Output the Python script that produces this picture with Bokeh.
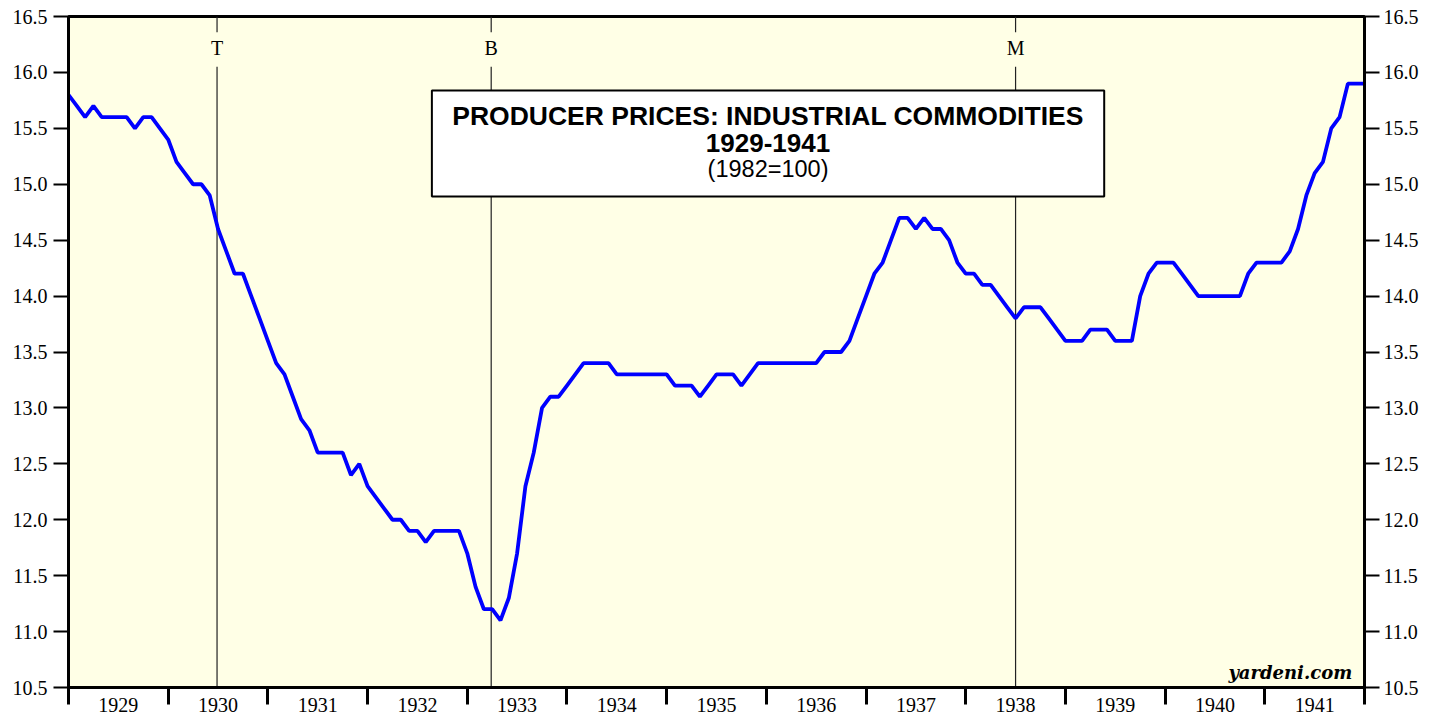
from bokeh.plotting import figure
from bokeh.models import FixedTicker, LinearAxis, Range1d, BoxAnnotation, Label, PrintfTickFormatter
from bokeh.core.properties import value
from bokeh.embed import file_html
from bokeh.resources import INLINE

# Monthly producer prices, industrial commodities (1982=100), Jan 1929 onward
ppi = [
    15.8, 15.7, 15.6, 15.7, 15.6, 15.6, 15.6, 15.6, 15.5, 15.6, 15.6, 15.5,   # 1929
    15.4, 15.2, 15.1, 15.0, 15.0, 14.9, 14.6, 14.4, 14.2, 14.2, 14.0, 13.8,   # 1930
    13.6, 13.4, 13.3, 13.1, 12.9, 12.8, 12.6, 12.6, 12.6, 12.6, 12.4, 12.5,   # 1931
    12.3, 12.2, 12.1, 12.0, 12.0, 11.9, 11.9, 11.8, 11.9, 11.9, 11.9, 11.9,   # 1932
    11.7, 11.4, 11.2, 11.2, 11.1, 11.3, 11.7, 12.3, 12.6, 13.0, 13.1, 13.1,   # 1933
    13.2, 13.3, 13.4, 13.4, 13.4, 13.4, 13.3, 13.3, 13.3, 13.3, 13.3, 13.3,   # 1934
    13.3, 13.2, 13.2, 13.2, 13.1, 13.2, 13.3, 13.3, 13.3, 13.2, 13.3, 13.4,   # 1935
    13.4, 13.4, 13.4, 13.4, 13.4, 13.4, 13.4, 13.5, 13.5, 13.5, 13.6, 13.8,   # 1936
    14.0, 14.2, 14.3, 14.5, 14.7, 14.7, 14.6, 14.7, 14.6, 14.6, 14.5, 14.3,   # 1937
    14.2, 14.2, 14.1, 14.1, 14.0, 13.9, 13.8, 13.9, 13.9, 13.9, 13.8, 13.7,   # 1938
    13.6, 13.6, 13.6, 13.7, 13.7, 13.7, 13.6, 13.6, 13.6, 14.0, 14.2, 14.3,   # 1939
    14.3, 14.3, 14.2, 14.1, 14.0, 14.0, 14.0, 14.0, 14.0, 14.0, 14.2, 14.3,   # 1940
    14.3, 14.3, 14.3, 14.4, 14.6, 14.9, 15.1, 15.2, 15.5, 15.6, 15.9, 15.9,   # 1941
    15.9,
]
start_year = 1929
months = [start_year + i / 12 for i in range(len(ppi))]

years = list(range(1929, 1942))
year_labels = [str(y) for y in years]
year_bounds = list(range(1929, 1943))
y_ticks = [10.5, 11.0, 11.5, 12.0, 12.5, 13.0, 13.5, 14.0, 14.5, 15.0, 15.5, 16.0, 16.5]

cycle_x = [1930.49, 1933.24, 1938.50]
cycle_labels = ["T", "B", "M"]

title_lines = ["PRODUCER PRICES: INDUSTRIAL COMMODITIES", "1929-1941", "(1982=100)"]

SERIF = "Liberation Serif"
SANS = "Liberation Sans"

p = figure(
    width=1439, height=719,
    x_range=Range1d(1929, 1942), y_range=Range1d(10.5, 16.5),
    output_backend="svg", toolbar_location=None,
    min_border_left=68, min_border_right=75, min_border_top=16, min_border_bottom=32,
    background_fill_color="#FFFFE6", border_fill_color="white",
)
p.xgrid.visible = False
p.ygrid.visible = False
p.outline_line_color = "black"
p.outline_line_width = 3

# bottom axis: year boundaries as minor ticks, labels mid-year
xa = p.xaxis[0]
xa.ticker = FixedTicker(ticks=[y + 0.5 for y in years], minor_ticks=year_bounds)
xa.major_label_overrides = {y + 0.5: lab for y, lab in zip(years, year_labels)}
xa.major_tick_out = 0
xa.major_tick_in = 0
xa.minor_tick_out = 17
xa.minor_tick_in = 0
xa.minor_tick_line_width = 3
xa.minor_tick_line_color = "black"
xa.axis_line_width = 3
xa.axis_line_color = "black"
xa.major_label_standoff = -7
xa.major_label_text_font = SERIF
xa.major_label_text_font_size = "20px"
xa.major_label_text_color = "black"


def style_y(ax, standoff):
    ax.ticker = FixedTicker(ticks=y_ticks, minor_ticks=[])
    ax.formatter = PrintfTickFormatter(format="%.1f")
    ax.major_tick_out = 15
    ax.major_tick_in = 0
    ax.major_tick_line_width = 2
    ax.major_tick_line_color = "black"
    ax.minor_tick_out = 0
    ax.minor_tick_in = 0
    ax.axis_line_width = 3
    ax.axis_line_color = "black"
    ax.major_label_standoff = standoff
    ax.major_label_text_font = SERIF
    ax.major_label_text_font_size = "20px"
    ax.major_label_text_color = "black"


style_y(p.yaxis[0], 6)
ry = LinearAxis()
style_y(ry, 4)
p.add_layout(ry, "right")

# business-cycle markers
n = len(cycle_x)
p.segment(x0=cycle_x, y0=[16.5] * n, x1=cycle_x, y1=[16.36] * n, line_color="#222222", line_width=1.2)
p.segment(x0=cycle_x, y0=[16.05] * n, x1=cycle_x, y1=[10.5] * n, line_color="#222222", line_width=1.2)
p.text(x=cycle_x, y=[16.215] * n, text=cycle_labels, text_align="center", text_baseline="alphabetic",
       text_font=value(SERIF), text_font_size="20px", text_color="black")

# data line
p.line(months, ppi, line_color="#0000FF", line_width=3.8)

# title box
p.add_layout(BoxAnnotation(left=1932.645, right=1939.389, top=15.838, bottom=14.89,
                           fill_color="white", fill_alpha=1.0, line_color="black", line_alpha=1.0,
                           line_width=2))
p.add_layout(Label(x=1936.017, y=15.614, text=title_lines[0], text_align="center", text_baseline="alphabetic",
                   text_font=SANS, text_font_style="bold", text_font_size="26.5px", text_color="black"))
p.add_layout(Label(x=1936.017, y=15.368, text=title_lines[1], text_align="center", text_baseline="alphabetic",
                   text_font=SANS, text_font_style="bold", text_font_size="26px", text_color="black"))
p.add_layout(Label(x=1936.017, y=15.132, text=title_lines[2], text_align="center", text_baseline="alphabetic",
                   text_font=SANS, text_font_size="23.5px", text_color="black"))

p.add_layout(Label(x=1941.877, y=10.634, text="yardeni.com", text_align="right", text_baseline="alphabetic",
                   text_font="DejaVu Serif", text_font_style="bold italic", text_font_size="18px",
                   text_color="black"))

open("out.html", "w").write(file_html(p, INLINE))
